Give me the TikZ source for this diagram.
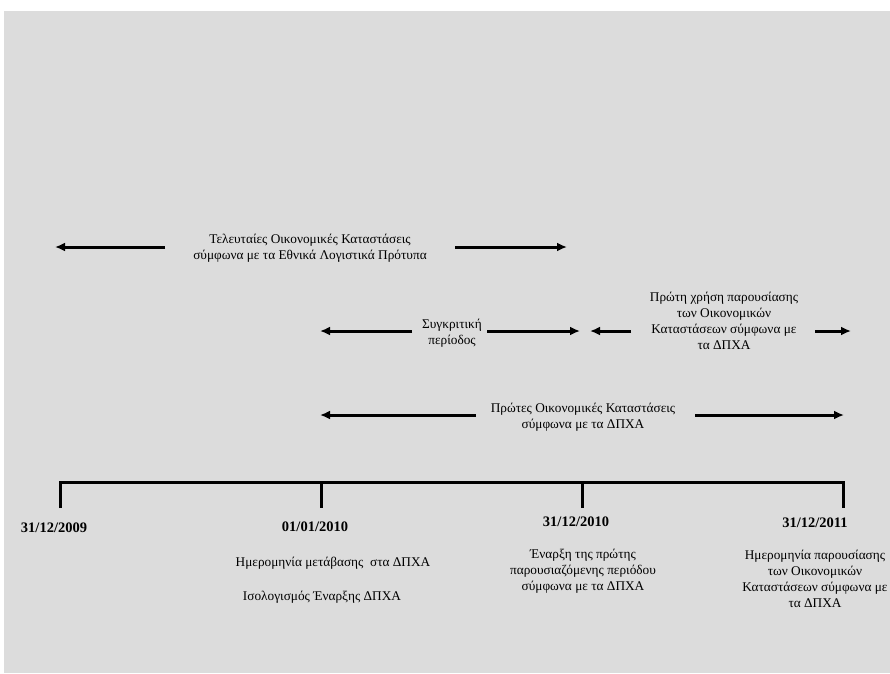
\documentclass[tikz,border=0pt]{standalone}
\usepackage{fontspec}
\setmainfont{Liberation Serif}
\usetikzlibrary{arrows.meta}
\definecolor{bg}{HTML}{DCDCDC}
\begin{document}
\begin{tikzpicture}[x=1pt,y=-1pt,
  lbl/.style={inner sep=0pt, align=center, font=\fontsize{13.3}{16}\selectfont},
  datelbl/.style={inner sep=0pt, font=\fontsize{14.5}{16}\selectfont\bfseries},
  arr/.style={line width=3pt, -{Latex[length=10pt,width=9pt]}},
  axisline/.style={line width=3pt, line join=miter}]
\useasboundingbox (0,0) rectangle (890,673);
\fill[white] (0,0) rectangle (890,673);
\fill[bg] (4,11) rectangle (890,673);

% Row 1
\node[lbl] (n1) at (310,248) {Τελευταίες Οικονομικές Καταστάσεις\\σύμφωνα με τα Εθνικά Λογιστικά Πρότυπα};
\coordinate (a1l) at (55,247); \coordinate (a1lt) at (165,247);
\coordinate (a1r) at (567,247); \coordinate (a1rt) at (455,247);
\draw[arr] (a1lt) -- (a1l);
\draw[arr] (a1rt) -- (a1r);

% Row 2 left
\node[lbl] (n2) at (452,333) {Συγκριτική\\περίοδος};
\coordinate (a2l) at (320,331); \coordinate (a2lt) at (412,331);
\coordinate (a2r) at (580,331); \coordinate (a2rt) at (487,331);
\draw[arr] (a2lt) -- (a2l);
\draw[arr] (a2rt) -- (a2r);

% Row 2 right
\node[lbl] (n3) at (724,321) {Πρώτη χρήση παρουσίασης\\των Οικονομικών\\Καταστάσεων σύμφωνα με\\τα ΔΠΧΑ};
\coordinate (a3l) at (590,331); \coordinate (a3lt) at (631,331);
\coordinate (a3r) at (851,331); \coordinate (a3rt) at (815,331);
\draw[arr] (a3lt) -- (a3l);
\draw[arr] (a3rt) -- (a3r);

% Row 3
\node[lbl] (n4) at (583,417) {Πρώτες Οικονομικές Καταστάσεις\\σύμφωνα με τα ΔΠΧΑ};
\coordinate (a4l) at (320,415); \coordinate (a4lt) at (476,415);
\coordinate (a4r) at (844,415); \coordinate (a4rt) at (695,415);
\draw[arr] (a4lt) -- (a4l);
\draw[arr] (a4rt) -- (a4r);

% Timeline
\coordinate (t1) at (60,482); \coordinate (t1b) at (60,508);
\coordinate (t2) at (321,482); \coordinate (t2b) at (321,508);
\coordinate (t3) at (582,482); \coordinate (t3b) at (582,508);
\coordinate (t4) at (843,482); \coordinate (t4b) at (843,508);
\draw[axisline] (t1b) -- (t1) -- (t4) -- (t4b);
\draw[axisline] (t2) -- (t2b);
\draw[axisline] (t3) -- (t3b);

% Dates
\node[datelbl] (d1) at (54,528) {31/12/2009};
\node[datelbl] (d2) at (315,527) {01/01/2010};
\node[datelbl] (d3) at (576,522) {31/12/2010};
\node[datelbl] (d4) at (815,523) {31/12/2011};

% Descriptions
\node[lbl] (e1) at (333,563) {Ημερομηνία μετάβασης \ στα ΔΠΧΑ};
\node[lbl] (e2) at (322,597) {Ισολογισμός Έναρξης ΔΠΧΑ};
\node[lbl] (e3) at (583,571) {Έναρξη της πρώτης\\παρουσιαζόμενης περιόδου\\σύμφωνα με τα ΔΠΧΑ};
\node[lbl] (e4) at (815,579) {Ημερομηνία παρουσίασης\\των Οικονομικών\\Καταστάσεων σύμφωνα με\\τα ΔΠΧΑ};
\end{tikzpicture}
\end{document}
